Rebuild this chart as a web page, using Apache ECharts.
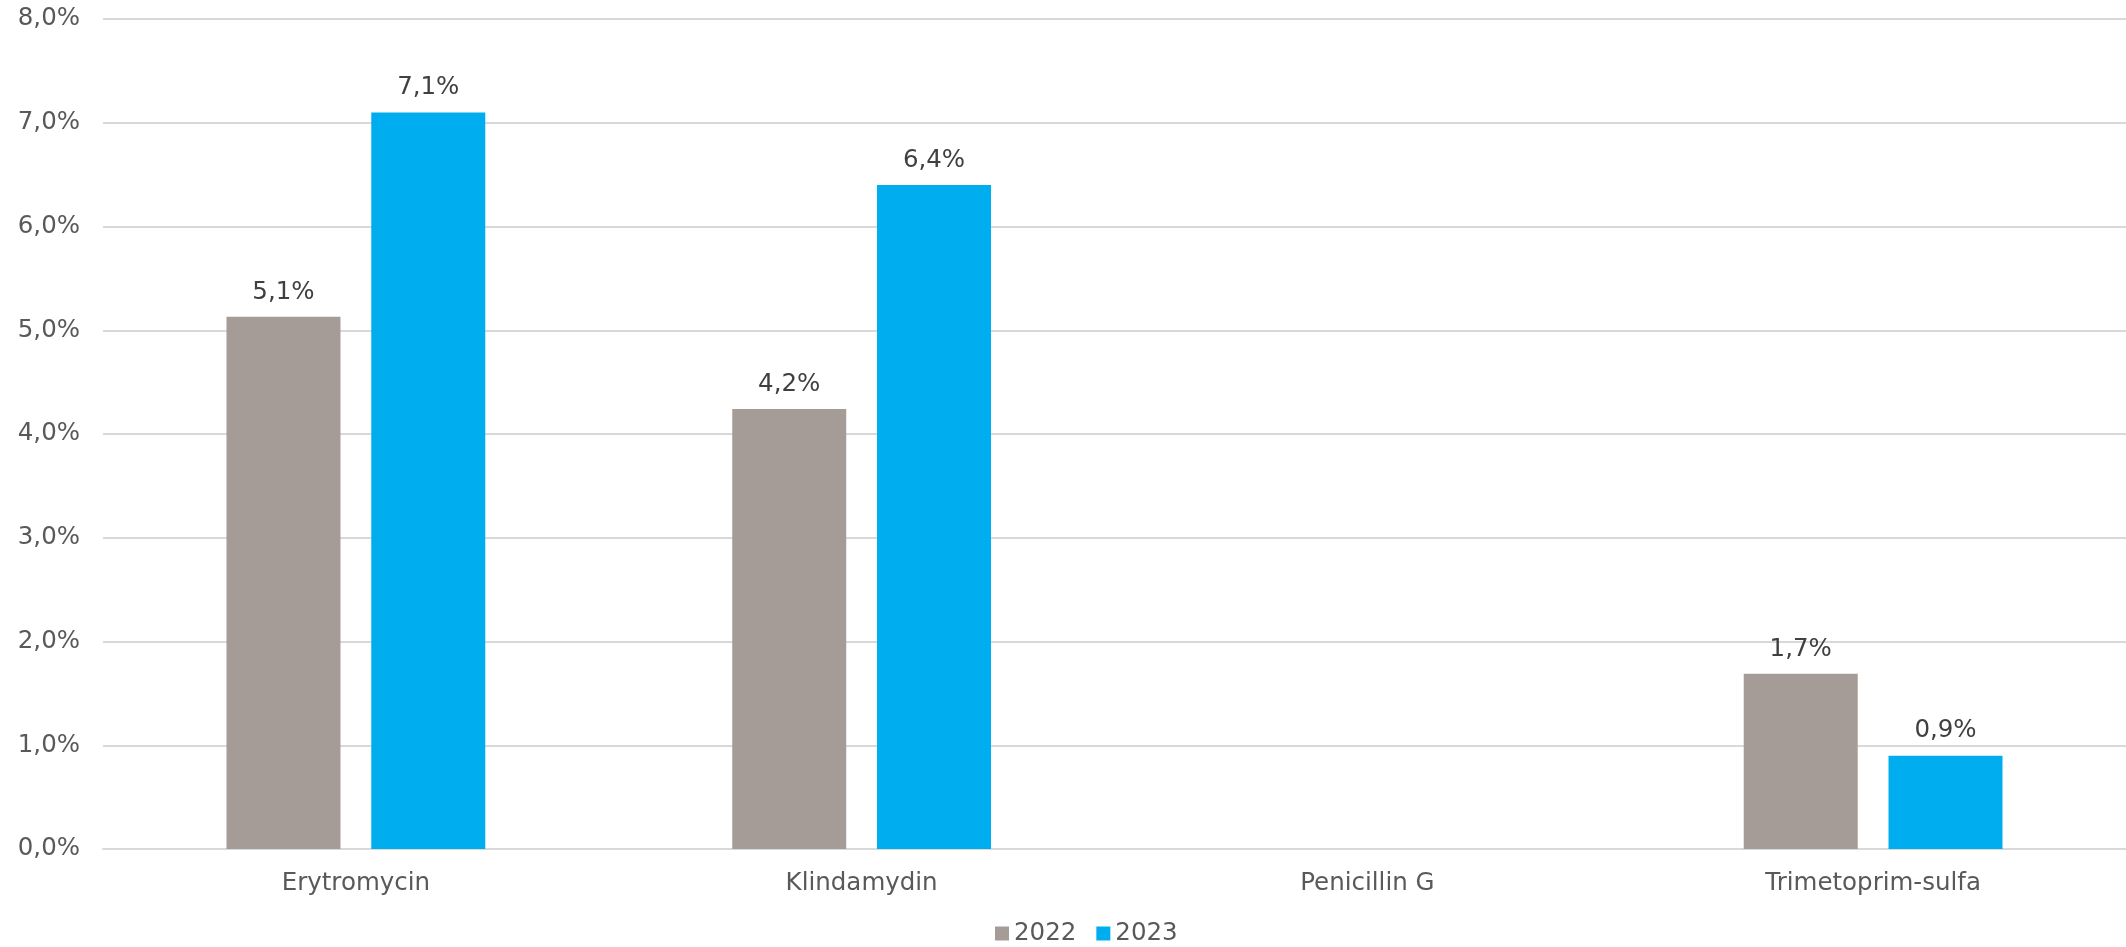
<!DOCTYPE html>
<html><head><meta charset="utf-8">
<script src="https://cdn.jsdelivr.net/npm/echarts@6/dist/echarts.min.js"></script>
<style>html,body{margin:0;padding:0;background:#fff}#c{width:2126px;height:947px}</style>
</head><body><div id="c"></div>
<script>
const categories = ['Erytromycin', 'Klindamydin', 'Penicillin G', 'Trimetoprim-sulfa'];
const seriesNames = ['2022', '2023'];
const values2022 = [5.13, 4.24, null, 1.69];
const values2023 = [7.10, 6.40, null, 0.90];
const yTicks = [0, 1, 2, 3, 4, 5, 6, 7, 8];

const fmt = v => v.toFixed(1).replace('.', ',') + '%';
const font = 'DejaVu Sans, Verdana, sans-serif';
const fs = 24.5;
const chart = echarts.init(document.getElementById('c'));
chart.setOption({
  animation: false,
  grid: { left: 103, right: -9, top: 19, bottom: 98, containLabel: false },
  legend: {
    bottom: -4, left: 990, itemWidth: 14, itemHeight: 14, itemGap: 20,
    icon: 'rect',
    textStyle: { fontFamily: font, fontSize: fs, color: '#595959' },
    data: seriesNames
  },
  xAxis: {
    type: 'category', data: categories,
    axisLine: { lineStyle: { color: '#d9d9d9', width: 2 } },
    axisTick: { show: false },
    axisLabel: { fontFamily: font, fontSize: fs, color: '#595959', margin: 22 }
  },
  yAxis: {
    type: 'value', min: yTicks[0], max: yTicks[yTicks.length - 1], interval: 1,
    axisLine: { show: false }, axisTick: { show: false },
    splitLine: { lineStyle: { color: '#d9d9d9', width: 2 } },
    axisLabel: { fontFamily: font, fontSize: fs, color: '#595959', margin: 23, formatter: fmt }
  },
  series: [
    { name: seriesNames[0], type: 'bar', data: values2022, barWidth: 114, barGap: '27%',
      itemStyle: { color: '#A69C97' },
      label: { show: true, position: 'top', distance: 12, fontFamily: font, fontSize: fs, color: '#404040', formatter: p => fmt(p.value) } },
    { name: seriesNames[1], type: 'bar', data: values2023, barWidth: 114,
      itemStyle: { color: '#00AEEF' },
      label: { show: true, position: 'top', distance: 12, fontFamily: font, fontSize: fs, color: '#404040', formatter: p => fmt(p.value) } }
  ]
});
</script></body></html>
